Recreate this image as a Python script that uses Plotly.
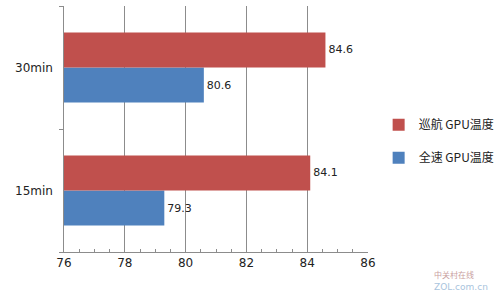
import plotly.graph_objects as go

categories = ["15min", "30min"]
series_names = ["全速 GPU温度", "巡航 GPU温度"]
full_speed = [79.3, 80.6]
cruise = [84.1, 84.6]
x_ticks = [76, 78, 80, 82, 84, 86]

BLUE = "#4F81BD"
RED = "#C0504D"
FONT = "DejaVu Sans, Noto Sans CJK SC, sans-serif"

fig = go.Figure()
fig.add_trace(go.Bar(
    y=categories, x=full_speed, orientation="h", name=series_names[0],
    marker=dict(color=BLUE, line=dict(width=0)),
    text=[f"{v:.1f}" for v in full_speed], textposition="outside",
    textfont=dict(size=11, color="#222", family=FONT), cliponaxis=False,
    legendgroup="b", legendrank=2,
))
fig.add_trace(go.Bar(
    y=categories, x=cruise, orientation="h", name=series_names[1],
    marker=dict(color=RED, line=dict(width=0)),
    text=[f"{v:.1f}" for v in cruise], textposition="outside",
    textfont=dict(size=11, color="#222", family=FONT), cliponaxis=False,
    legendgroup="a", legendrank=1,
))

fig.update_layout(
    width=500, height=298,
    margin=dict(l=64, r=132, t=6, b=46, autoexpand=False),
    paper_bgcolor="white", plot_bgcolor="white",
    barmode="group", bargap=0.43, bargroupgap=0,
    font=dict(family=FONT, size=11, color="#222"),
    legend=dict(
        x=1.035, y=0.45, xanchor="left", yanchor="middle",
        traceorder="grouped", tracegroupgap=14,
        font=dict(family="Noto Sans CJK SC, sans-serif", size=12, color="#222"),
        itemwidth=30, bgcolor="rgba(0,0,0,0)",
    ),
    xaxis=dict(
        range=[76, 86], tickvals=x_ticks, ticktext=[str(t) for t in x_ticks],
        showgrid=True, gridcolor="#8C8C8C", gridwidth=1,
        showline=True, linecolor="#8C8C8C", linewidth=1,
        ticks="inside", ticklen=5, tickcolor="#8C8C8C",
        minor=dict(dtick=0.5, ticks="inside", ticklen=3, tickcolor="#8C8C8C", showgrid=False),
        tickfont=dict(size=12, family=FONT, color="#222"),
        zeroline=False, fixedrange=True,
    ),
    yaxis=dict(
        showgrid=False, showline=True, linecolor="#8C8C8C", linewidth=1,
        ticks="outside", ticklen=4, tickcolor="#8C8C8C", tickson="boundaries",
        tickfont=dict(size=12, family=FONT, color="#222"),
        ticksuffix="  ",
    ),
    showlegend=True,
)

fig.add_annotation(xref="paper", yref="paper", x=1.21, y=-0.093, xanchor="left", yanchor="middle",
                   text="中关村在线", showarrow=False,
                   font=dict(size=8, color="#C9A0A0", family="Noto Sans CJK SC"))
fig.add_annotation(xref="paper", yref="paper", x=1.21, y=-0.142, xanchor="left", yanchor="middle",
                   text="ZOL.com.cn", showarrow=False,
                   font=dict(size=9, color="#A9C4DD", family=FONT))

fig.write_html("out.html")
